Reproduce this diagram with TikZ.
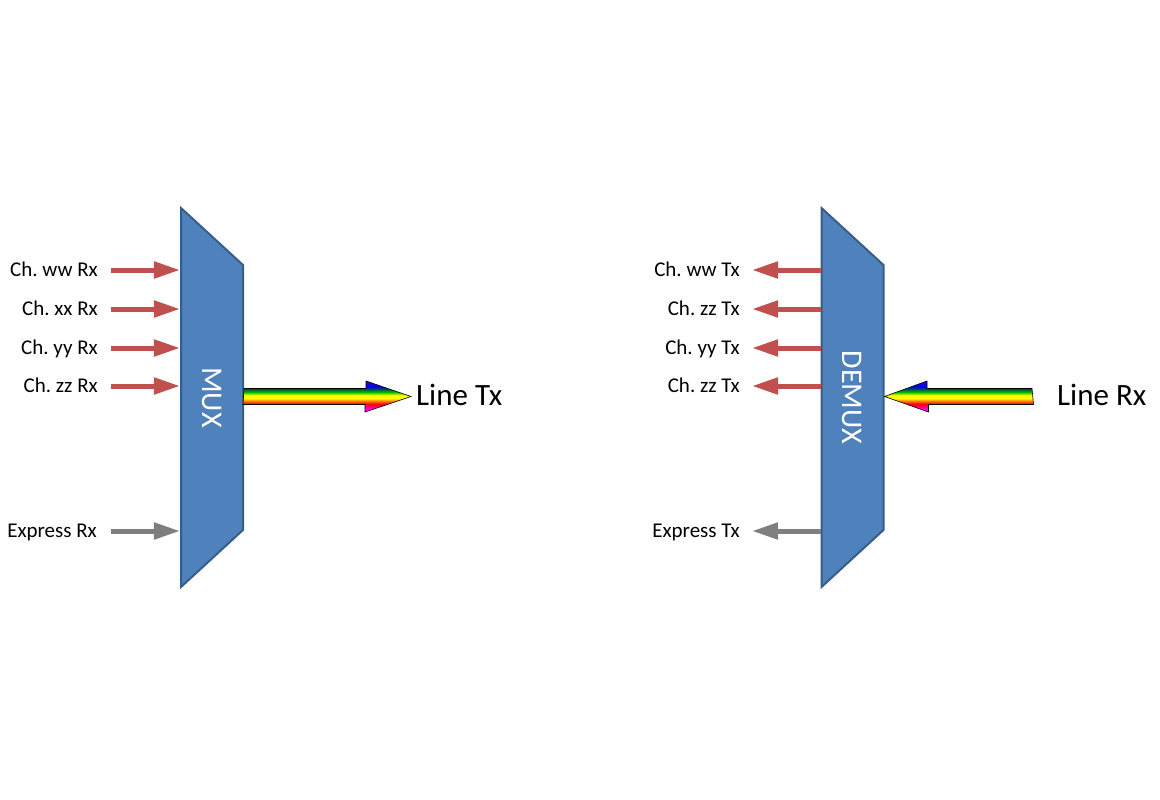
\documentclass[tikz,border=0pt]{standalone}
\usepackage{fontspec}
\setmainfont{Carlito}
\frenchspacing
\usetikzlibrary{shapes.geometric,arrows.meta,positioning}
\definecolor{muxblue}{HTML}{4F81BD}
\definecolor{muxedge}{HTML}{385D8A}
\definecolor{chred}{HTML}{C0504D}
\definecolor{chgrey}{HTML}{7F7F7F}
\pgfdeclareverticalshading{rainbow}{100bp}{color(0bp)=(magenta); color(30bp)=(magenta); color(34bp)=(magenta!40!red); color(38bp)=(red); color(43bp)=(orange); color(47bp)=(yellow); color(52bp)=(yellow); color(57bp)=(green!75!black); color(62bp)=(teal!60!black); color(66bp)=(blue); color(75bp)=(blue!60!violet); color(100bp)=(blue!60!violet)}
\tikzstyle{mux} = [draw=muxedge, fill=muxblue, line width=2pt, trapezium, trapezium angle=19.33, trapezium stretches body, minimum width=379pt, minimum height=62pt, inner sep=0pt, text height=20pt, text depth=0pt, rotate=-90, text=white, font=\fontsize{30}{36}\selectfont]
\tikzstyle{chan} = [line width=5pt, -{Triangle[length=26pt,width=16pt]}]
\tikzstyle{chlbl} = [inner sep=0pt, text height=13pt, text depth=0pt, font=\fontsize{21}{25}\selectfont]
\tikzstyle{linelbl} = [inner sep=0pt, text height=17pt, text depth=0pt, font=\fontsize{31}{36}\selectfont]
\tikzstyle{rainbowarrow} = [shading=rainbow, draw=black, line width=0.6pt]

\begin{document}
\begin{tikzpicture}[x=1pt,y=-1pt]
\useasboundingbox (0,0) rectangle (1160,800);

\node[mux] (mux) at (212,397.5) {MUX};
\node[mux] (demux) at (852.5,397.5) {DEMUX};

\foreach \y/\n/\t in {270/1/Ch. ww Rx, 309/2/Ch. xx Rx, 348/3/Ch. yy Rx, 386/4/Ch. zz Rx} {
\coordinate (rx\n) at (111,\y);
\node[chlbl, left=13pt of rx\n] (rxl\n) {\t};
\draw[chan, chred] (rx\n) -- (rx\n -| mux.south);
}
\coordinate (rxx) at (111,531);
\node[chlbl, left=14pt of rxx] (rxxl) {Express Rx};
\draw[chan, chgrey] (rxx) -- (rxx -| mux.south);

\foreach \y/\n/\t in {270/1/Ch. ww Tx, 309/2/Ch. zz Tx, 348/3/Ch. yy Tx, 386/4/Ch. zz Tx} {
\coordinate (tx\n) at (752,\y);
\node[chlbl, left=12pt of tx\n] (txl\n) {\t};
\draw[chan, chred] (tx\n -| demux.south) -- (tx\n);
}
\coordinate (txx) at (752,531);
\node[chlbl, left=12pt of txx] (txxl) {Express Tx};
\draw[chan, chgrey] (txx -| demux.south) -- (txx);

\coordinate (txtip) at (411,396.5);
\shade[rainbowarrow] (mux.north |- txtip) ++(0,-8) -- ++(122,0) -- ++(0,-7.5) -- (txtip) -- ++(-46,15.5) -- ++(0,-7.5) -- ++(-122,0) -- cycle;
\node[linelbl, right=5pt of txtip] (linetx) {Line Tx};

\coordinate (rxtail) at (1032,396.5);
\shade[rainbowarrow] (rxtail) ++(0,-8) -- ++(-105,0) -- ++(0,-7.5) -- (demux.north |- rxtail) -- ++(44,15.5) -- ++(0,-7.5) -- ++(105,0) -- cycle;
\node[linelbl, right=25pt of rxtail] (linerx) {Line Rx};
\end{tikzpicture}
\end{document}
